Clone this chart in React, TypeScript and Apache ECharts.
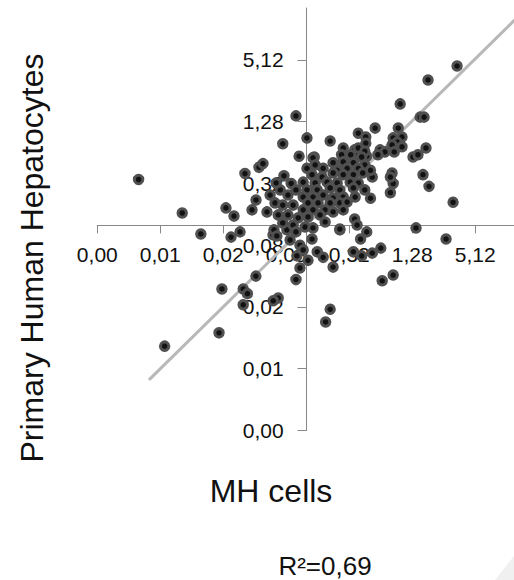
import React, { useEffect, useRef } from "react";
import * as echarts from "echarts";

// Log-4 axis ticks (both axes share them)
const TICK_VALUES = [0.00125, 0.005, 0.02, 0.08, 0.32, 1.28, 5.12];
const TICK_LABELS = ["0,00", "0,01", "0,02", "0,08", "0,32", "1,28", "5,12"];
const AXIS_CROSS = 0.125;
const X_EXTENT = [0.00125, 12];
const Y_EXTENT = [0.00125, 16.45];

// MH cells (x) vs Primary Human Hepatocytes (y)
const mhCells = [
  3.43, 1.81, 0.98, 1.52, 1.66, 0.099, 0.565, 0.94, 0.39, 0.46, 0.46, 0.126, 0.074, 0.21, 0.84, 1.02, 0.92, 0.82, 1.02, 1.73,
  0.28, 0.36, 0.39, 0.33, 0.47, 0.63, 0.70, 1.30, 1.45, 0.106, 0.148, 1.62, 1.85, 3.14, 1.39, 2.69, 0.0031, 0.0081, 0.0122, 0.0212,
  0.0253, 0.0237, 0.0289, 0.0376, 0.0411, 0.0322, 0.0439, 0.0479, 0.089, 0.0523, 0.0624, 0.0597, 0.64, 0.53, 0.42, 0.35, 0.84, 0.66, 0.224, 0.158,
  0.18, 0.099, 0.129, 0.141, 0.47, 0.41, 0.36, 0.26, 0.79, 0.84, 0.82, 0.51, 0.53, 0.061, 0.065, 0.081, 0.093, 0.041, 0.031, 0.0055,
  0.0182, 0.0194, 0.034, 0.031, 0.067, 0.060, 0.21, 0.19, 0.39, 0.45, 0.86, 0.144, 0.27, 0.42, 0.60, 0.151, 0.224, 0.28, 0.35, 0.45,
  0.126, 0.18, 0.245, 0.305, 0.39, 0.51, 0.141, 0.176, 0.224, 0.28, 0.35, 0.43, 0.79, 0.116, 0.151, 0.196, 0.245, 0.326, 0.39, 0.126,
  0.158, 0.21, 0.26, 0.35, 0.45, 0.116, 0.144, 0.18, 0.224, 0.28, 0.364, 0.129, 0.161, 0.21, 0.26, 0.305, 0.116, 0.144, 0.188, 0.224,
  0.28, 0.129, 0.168, 0.121, 0.144, 0.26, 0.38, 0.070, 0.083, 0.099, 0.056, 0.074, 0.093, 0.067, 0.083, 0.104, 0.074, 0.099, 0.087, 0.108,
  0.101, 0.108, 0.116, 0.188, 0.064, 0.076,
];
const primaryHepatocytes = [
  4.47, 3.27, 1.91, 1.42, 1.42, 1.46, 1.11, 1.11, 0.99, 0.91, 0.79, 0.89, 0.78, 0.83, 0.89, 0.91, 0.81, 0.76, 0.73, 0.71,
  0.71, 0.68, 0.62, 0.61, 0.59, 0.68, 0.65, 0.58, 0.61, 0.59, 0.58, 0.39, 0.30, 0.21, 0.118, 0.092, 0.35, 0.165, 0.103, 0.185,
  0.154, 0.096, 0.108, 0.177, 0.221, 0.40, 0.46, 0.50, 0.32, 0.169, 0.207, 0.101, 0.075, 0.067, 0.063, 0.069, 0.041, 0.036, 0.049, 0.069,
  0.061, 0.037, 0.057, 0.092, 0.108, 0.092, 0.144, 0.113, 0.26, 0.32, 0.405, 0.23, 0.37, 0.113, 0.0985, 0.113, 0.126, 0.040, 0.030, 0.0083,
  0.0112, 0.030, 0.027, 0.021, 0.0245, 0.023, 0.019, 0.0143, 0.71, 0.66, 0.65, 0.57, 0.61, 0.58, 0.61, 0.485, 0.51, 0.52, 0.51, 0.485,
  0.45, 0.45, 0.43, 0.45, 0.45, 0.43, 0.39, 0.37, 0.405, 0.39, 0.39, 0.405, 0.37, 0.33, 0.324, 0.33, 0.324, 0.33, 0.324, 0.277,
  0.277, 0.29, 0.277, 0.29, 0.277, 0.236, 0.236, 0.247, 0.231, 0.236, 0.236, 0.207, 0.207, 0.207, 0.207, 0.211, 0.177, 0.177, 0.177, 0.169,
  0.177, 0.151, 0.158, 0.1205, 0.118, 0.115, 0.126, 0.277, 0.247, 0.277, 0.247, 0.197, 0.197, 0.158, 0.158, 0.148, 0.132, 0.108, 0.090, 0.080,
  0.063, 0.048, 0.072, 0.135, 0.324, 0.38,
];

// Trend line endpoints
const fitX = [0.0039, 13];
const fitY = [0.0039, 13.4];

const toU = (v: number) => Math.log(v / AXIS_CROSS) / Math.log(4);
const tickU = TICK_VALUES.map(toU);
const fmt = (u: number) => {
  let best = 0;
  for (let i = 1; i < tickU.length; i++) {
    if (Math.abs(tickU[i] - u) < Math.abs(tickU[best] - u)) best = i;
  }
  return TICK_LABELS[best];
};

const FONT = "'Liberation Sans', Arial, sans-serif";
const AXIS_COLOR = "#888888";
const TEXT_COLOR = "#111111";

const GRID = { left: 97.3, right: 0, top: 8, bottom: 149.5 };
const W = 514;
const H = 580;

export default function App() {
  const ref = useRef<HTMLDivElement>(null);
  useEffect(() => {
    if (!ref.current) return;
    const chart = echarts.init(ref.current, null, { renderer: "svg" });
    const xMin = toU(X_EXTENT[0]) - 1e-9;
    const xMax = toU(X_EXTENT[1]);
    const yMin = toU(Y_EXTENT[0]) - 1e-9;
    const yMax = toU(Y_EXTENT[1]);
    const gridW = W - GRID.left - GRID.right;
    const gridH = H - GRID.top - GRID.bottom;
    // shift each axis from the grid edge to the crossing value (AXIS_CROSS -> u = 0)
    const xAxisOffset = -gridH * ((0 - yMin) / (yMax - yMin));
    const yAxisOffset = -gridW * ((0 - xMin) / (xMax - xMin));
    const labelStyle = {
      customValues: tickU,
      formatter: fmt,
      fontSize: 21,
      fontFamily: FONT,
      color: TEXT_COLOR,
    };
    chart.setOption({
      animation: false,
      backgroundColor: "#ffffff",
      grid: { ...GRID, containLabel: false, outerBoundsMode: "none" },
      xAxis: {
        type: "value",
        position: "bottom",
        offset: xAxisOffset,
        min: xMin,
        max: xMax,
        splitLine: { show: false },
        axisLine: { show: true, onZero: false, lineStyle: { color: AXIS_COLOR, width: 1 } },
        axisTick: { show: true, length: 8, customValues: tickU, lineStyle: { color: AXIS_COLOR } },
        axisLabel: { ...labelStyle, margin: 19 },
      },
      yAxis: {
        type: "value",
        position: "left",
        offset: yAxisOffset,
        min: yMin,
        max: yMax,
        splitLine: { show: false },
        axisLine: { show: true, onZero: false, lineStyle: { color: AXIS_COLOR, width: 1 } },
        axisTick: { show: true, length: 9, customValues: tickU, lineStyle: { color: AXIS_COLOR } },
        axisLabel: { ...labelStyle, margin: 23 },
      },
      series: [
        {
          type: "line",
          data: fitX.map((x, i) => [toU(x), toU(fitY[i])]),
          showSymbol: false,
          symbol: "none",
          clip: true,
          silent: true,
          lineStyle: { color: "#b8b8b8", width: 3 },
          z: 1,
        },
        {
          type: "scatter",
          data: mhCells.map((x, i) => [toU(x), toU(primaryHepatocytes[i])]),
          symbol: "circle",
          symbolSize: 8.5,
          itemStyle: { color: "#121212", borderColor: "#505050", borderWidth: 3, opacity: 1 },
          z: 2,
        },
      ],
      graphic: [
        {
          type: "text",
          x: 32,
          y: 258,
          rotation: Math.PI / 2,
          style: {
            text: "Primary Human Hepatocytes",
            fontSize: 32,
            fontFamily: FONT,
            fill: TEXT_COLOR,
            align: "center",
            verticalAlign: "middle",
            textAlign: "center",
            textVerticalAlign: "middle",
          },
        },
        {
          type: "text",
          x: 271,
          y: 491,
          style: {
            text: "MH cells",
            fontSize: 32,
            fontFamily: FONT,
            fill: TEXT_COLOR,
            align: "center",
            verticalAlign: "middle",
            textAlign: "center",
            textVerticalAlign: "middle",
          },
        },
        {
          type: "text",
          x: 325,
          y: 566,
          style: {
            text: "R²=0,69",
            fontSize: 26,
            fontFamily: FONT,
            fill: TEXT_COLOR,
            align: "center",
            verticalAlign: "middle",
            textAlign: "center",
            textVerticalAlign: "middle",
          },
        },
        {
          type: "polygon",
          shape: { points: [[514, 556], [495, 580], [514, 580]] },
          style: { fill: "#f0f0f0" },
          silent: true,
        },
      ],
    });
    return () => chart.dispose();
  }, []);
  return <div ref={ref} style={{ position: "absolute", left: 0, top: 0, width: W, height: H }} />;
}
